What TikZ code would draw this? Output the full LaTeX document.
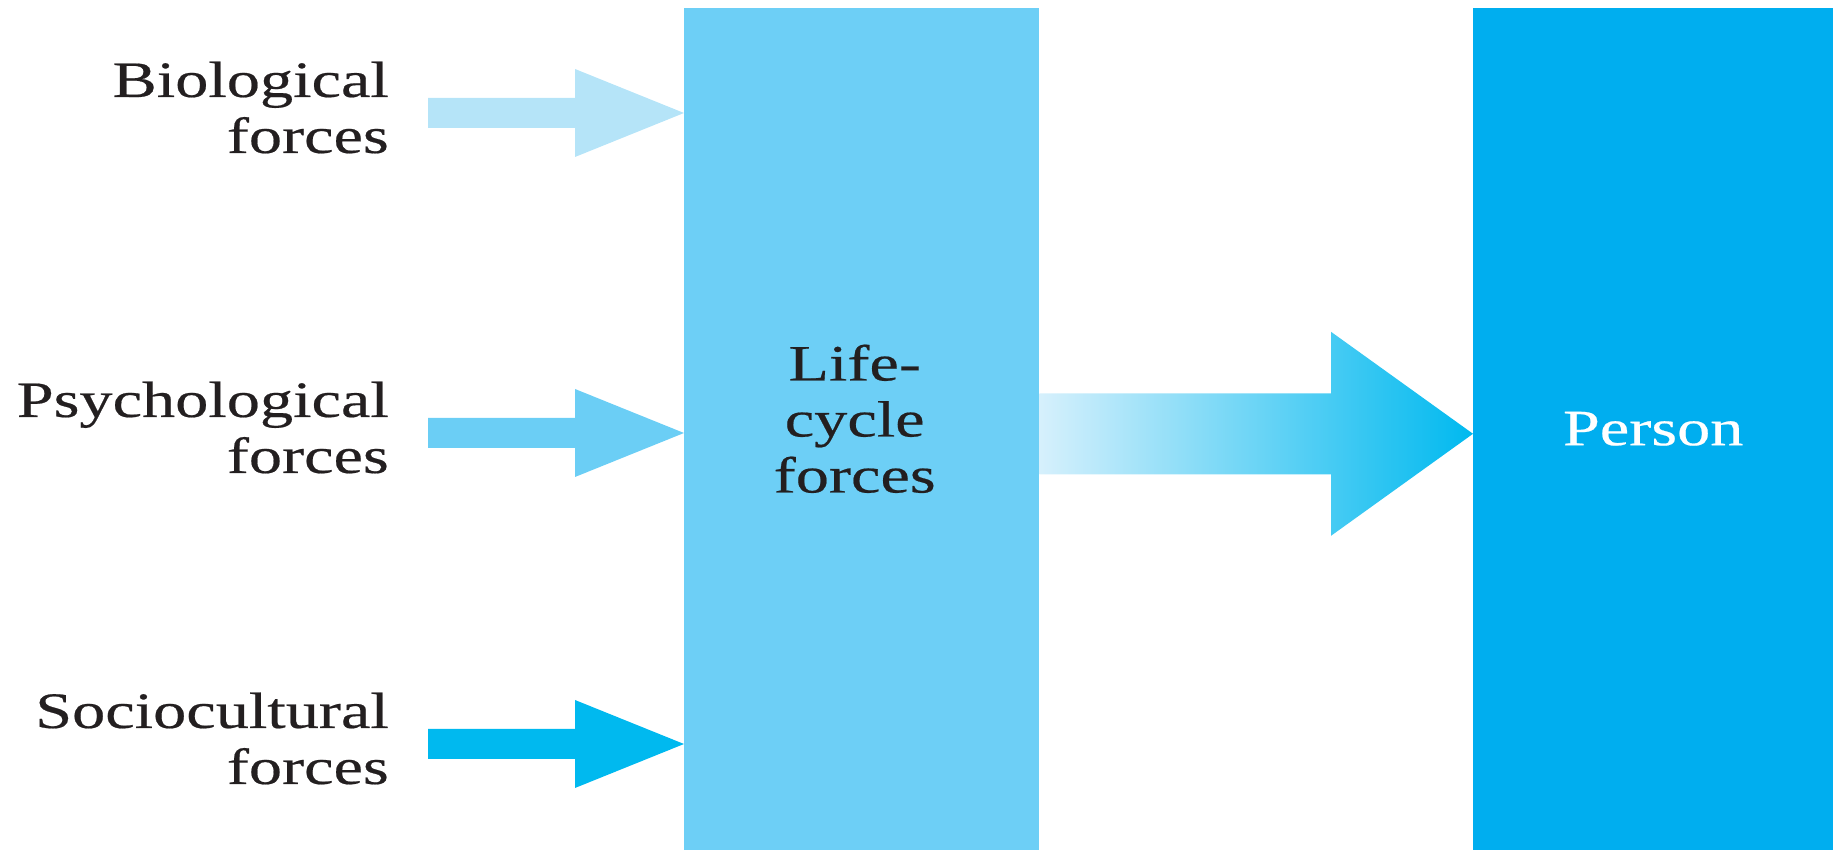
\documentclass[tikz,border=0pt]{standalone}
\usepackage{fontspec}
\setmainfont{Liberation Serif}[FakeStretch=1.3,FakeBold=0.4]
\usetikzlibrary{calc}
\definecolor{lifeblue}{HTML}{6DCFF6}
\definecolor{personblue}{HTML}{00AEEF}
\definecolor{bioblue}{HTML}{B5E4F8}
\definecolor{psyblue}{HTML}{6BCEF5}
\definecolor{socblue}{HTML}{00B9EF}
\definecolor{fadeblue}{HTML}{D6F0FC}
\definecolor{inkgray}{HTML}{231F20}
\newcommand{\blockarrow}[6]{%
  \path[#1] ($(#2)+(0,#4)$) -- ($(#3)+(-#6,#4)$) -- ($(#3)+(-#6,#5)$) -- (#3)
    -- ($(#3)+(-#6,-#5)$) -- ($(#3)+(-#6,-#4)$) -- ($(#2)+(0,-#4)$) -- cycle;}

\begin{document}
\begin{tikzpicture}[x=1pt,y=1pt,
  bigtext/.style={font=\fontsize{51}{56}\selectfont},
  forcelabel/.style={bigtext,align=right,anchor=east,inner sep=0pt,text=inkgray},
  column/.style={minimum width=#1,minimum height=842pt,inner sep=0pt,anchor=south west}]
\useasboundingbox (0,0) rectangle (1833,850);
\node[column=355pt,fill=lifeblue] (life) at (684,0) {};
\node[column=360pt,fill=personblue,bigtext,text=white] (person) at (1473,0) {Person};
\node[bigtext,align=center,inner sep=0pt,text=inkgray] (lifetext) at ([xshift=-7pt,yshift=10pt]life.center) {Life-\\cycle\\forces};
\node[forcelabel] (bio) at (389,742.5) {Biological\\forces};
\node[forcelabel] (psy) at (389,422.5) {Psychological\\forces};
\node[forcelabel] (soc) at (389,111.5) {Sociocultural\\forces};
\coordinate (bioS) at ([xshift=39pt,yshift=-5.5pt]bio.east);
\coordinate (bioE) at (bioS -| life.west);
\coordinate (psyS) at ([xshift=39pt,yshift=-5.5pt]psy.east);
\coordinate (psyE) at (psyS -| life.west);
\coordinate (socS) at ([xshift=39pt,yshift=-5.5pt]soc.east);
\coordinate (socE) at (socS -| life.west);
\coordinate (bigS) at ([yshift=-5pt]life.east);
\coordinate (bigE) at (bigS -| person.west);
\blockarrow{fill=bioblue}{bioS}{bioE}{15}{44}{109}
\blockarrow{fill=psyblue}{psyS}{psyE}{15}{44}{109}
\blockarrow{fill=socblue}{socS}{socE}{15}{44}{109}
\blockarrow{left color=fadeblue,middle color=lifeblue!85,right color=socblue}{bigS}{bigE}{40.5}{102}{142}
\end{tikzpicture}
\end{document}
